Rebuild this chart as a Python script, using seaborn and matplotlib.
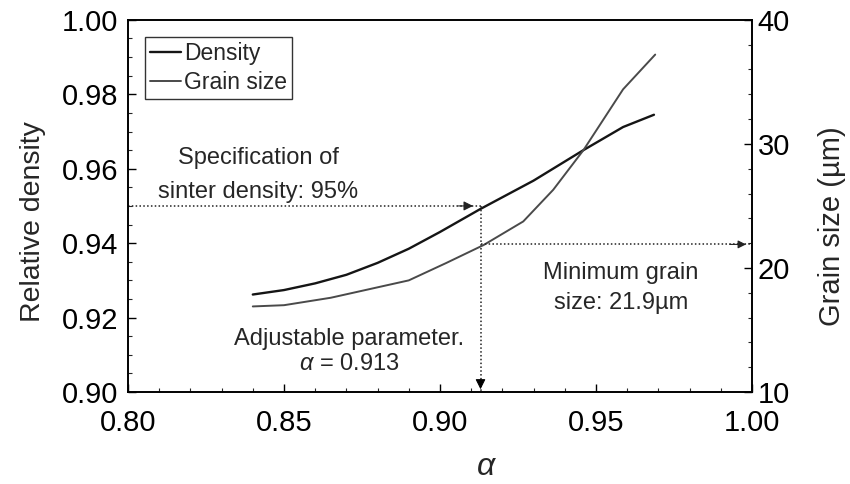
import numpy as np
import pandas as pd
import matplotlib
matplotlib.use("Agg")
import matplotlib.pyplot as plt
from matplotlib.ticker import MultipleLocator
import seaborn as sns

# ---- data ----
alpha_density = [0.840, 0.850, 0.860, 0.870, 0.880, 0.890, 0.900, 0.913, 0.930, 0.946, 0.9587, 0.9686]
rel_density   = [0.9262, 0.9274, 0.9292, 0.9315, 0.9347, 0.9385, 0.9430, 0.9492, 0.9568, 0.9650, 0.9712, 0.9745]
alpha_grain   = [0.840, 0.850, 0.865, 0.890, 0.902, 0.914, 0.9267, 0.9363, 0.946, 0.9587, 0.969]
grain_size    = [16.9, 17.0, 17.6, 19.0, 20.4, 21.85, 23.75, 26.3, 29.5, 34.4, 37.2]

spec_density = 0.95
alpha_opt = 0.913
min_grain = 21.9

x_ticks = [0.80, 0.85, 0.90, 0.95, 1.00]
yl_ticks = [0.90, 0.92, 0.94, 0.96, 0.98, 1.00]
yr_ticks = [10, 20, 30, 40]

df_d = pd.DataFrame({"alpha": alpha_density, "density": rel_density})
df_g = pd.DataFrame({"alpha": alpha_grain, "grain": grain_size})

sns.set_style("ticks")
plt.rcParams["font.family"] = ["Liberation Sans", "DejaVu Sans"]
plt.rcParams["mathtext.fontset"] = "custom"
plt.rcParams["mathtext.it"] = "Liberation Sans:italic"
plt.rcParams["mathtext.rm"] = "Liberation Sans"

fig = plt.figure(figsize=(8.5, 4.84), dpi=100)
ax = fig.add_axes([0.1506, 0.190, 0.734, 0.769])
ax2 = ax.twinx()

sns.lineplot(data=df_d, x="alpha", y="density", ax=ax, color="#151515", lw=1.7, label="Density", legend=False)
sns.lineplot(data=df_g, x="alpha", y="grain", ax=ax2, color="#4a4a4a", lw=1.4, label="Grain size", legend=False)

ax.set_xlim(0.80, 1.00)
ax.set_ylim(0.90, 1.00)
ax2.set_ylim(10, 40)
ax.set_xticks(x_ticks)
ax.set_xticklabels([f"{v:.2f}" for v in x_ticks])
ax.set_yticks(yl_ticks)
ax.set_yticklabels([f"{v:.2f}" for v in yl_ticks])
ax2.set_yticks(yr_ticks)
ax.xaxis.set_minor_locator(MultipleLocator(0.01))
ax.yaxis.set_minor_locator(MultipleLocator(0.005))
ax2.yaxis.set_minor_locator(MultipleLocator(2))

for a in (ax, ax2):
    a.tick_params(which="major", direction="in", length=6, width=1, labelsize=21, colors="black")
    a.tick_params(which="minor", direction="in", length=3, width=0.8)
    for s in a.spines.values():
        s.set_visible(True)
        s.set_linewidth(1.2)
        s.set_color("black")
ax.tick_params(axis="x", pad=12)
ax.tick_params(axis="y", pad=7)
ax2.tick_params(axis="y", pad=4)

ax.set_xlabel(r"$\mathit{\alpha}$", fontsize=23)
ax.xaxis.set_label_coords(0.574, -0.16)
ax.set_ylabel("Relative density", fontsize=20.5)
ax.yaxis.set_label_coords(-0.132, 0.457)
ax2.set_ylabel("Grain size (µm)", fontsize=21)
ax2.yaxis.set_label_coords(1.106, 0.446)

# legend
h1, l1 = ax.get_legend_handles_labels()
h2, l2 = ax2.get_legend_handles_labels()
leg = ax.legend(h1 + h2, l1 + l2, loc="upper left", bbox_to_anchor=(0.027, 0.953),
                fontsize=16.5, frameon=True, fancybox=False, handlelength=1.35,
                handletextpad=0.15, borderpad=0.22, labelspacing=0.25, borderaxespad=0.0)
leg.get_frame().set_edgecolor("black")
leg.get_frame().set_linewidth(1.0)

# annotation lines
dot = dict(color="#222222", lw=1.1, ls=(0, (1, 1.5)))
ax.plot([0.80, alpha_opt], [spec_density, spec_density], **dot)
ax.plot([alpha_opt, alpha_opt], [spec_density, 0.90], **dot)
ax2.plot([alpha_opt, 1.00], [min_grain, min_grain], **dot)

ax.annotate("", xy=(alpha_opt - 0.0015, spec_density), xytext=(alpha_opt - 0.008, spec_density),
            arrowprops=dict(arrowstyle="-|>", color="#222222", lw=0.8, mutation_scale=14))
ax.annotate("", xy=(alpha_opt, 0.90), xytext=(alpha_opt, 0.904),
            arrowprops=dict(arrowstyle="-|>", color="black", lw=0.8, mutation_scale=15))
ax2.annotate("", xy=(0.999, min_grain), xytext=(0.992, min_grain),
             arrowprops=dict(arrowstyle="-|>", color="#222222", lw=0.8, mutation_scale=12))

ax.text(0.8417, 0.9583, "Specification of\nsinter density: 95%", ha="center", va="center",
        fontsize=17, linespacing=1.7)
ax.text(0.958, 0.928, "Minimum grain\nsize: 21.9µm", ha="center", va="center",
        fontsize=17, linespacing=1.5)
ax.text(0.8708, 0.9109, "Adjustable parameter.\n" + r"$\mathit{\alpha}$" + " = 0.913", ha="center", va="center",
        fontsize=17, linespacing=1.2)

fig.savefig("out.png", dpi=100)
